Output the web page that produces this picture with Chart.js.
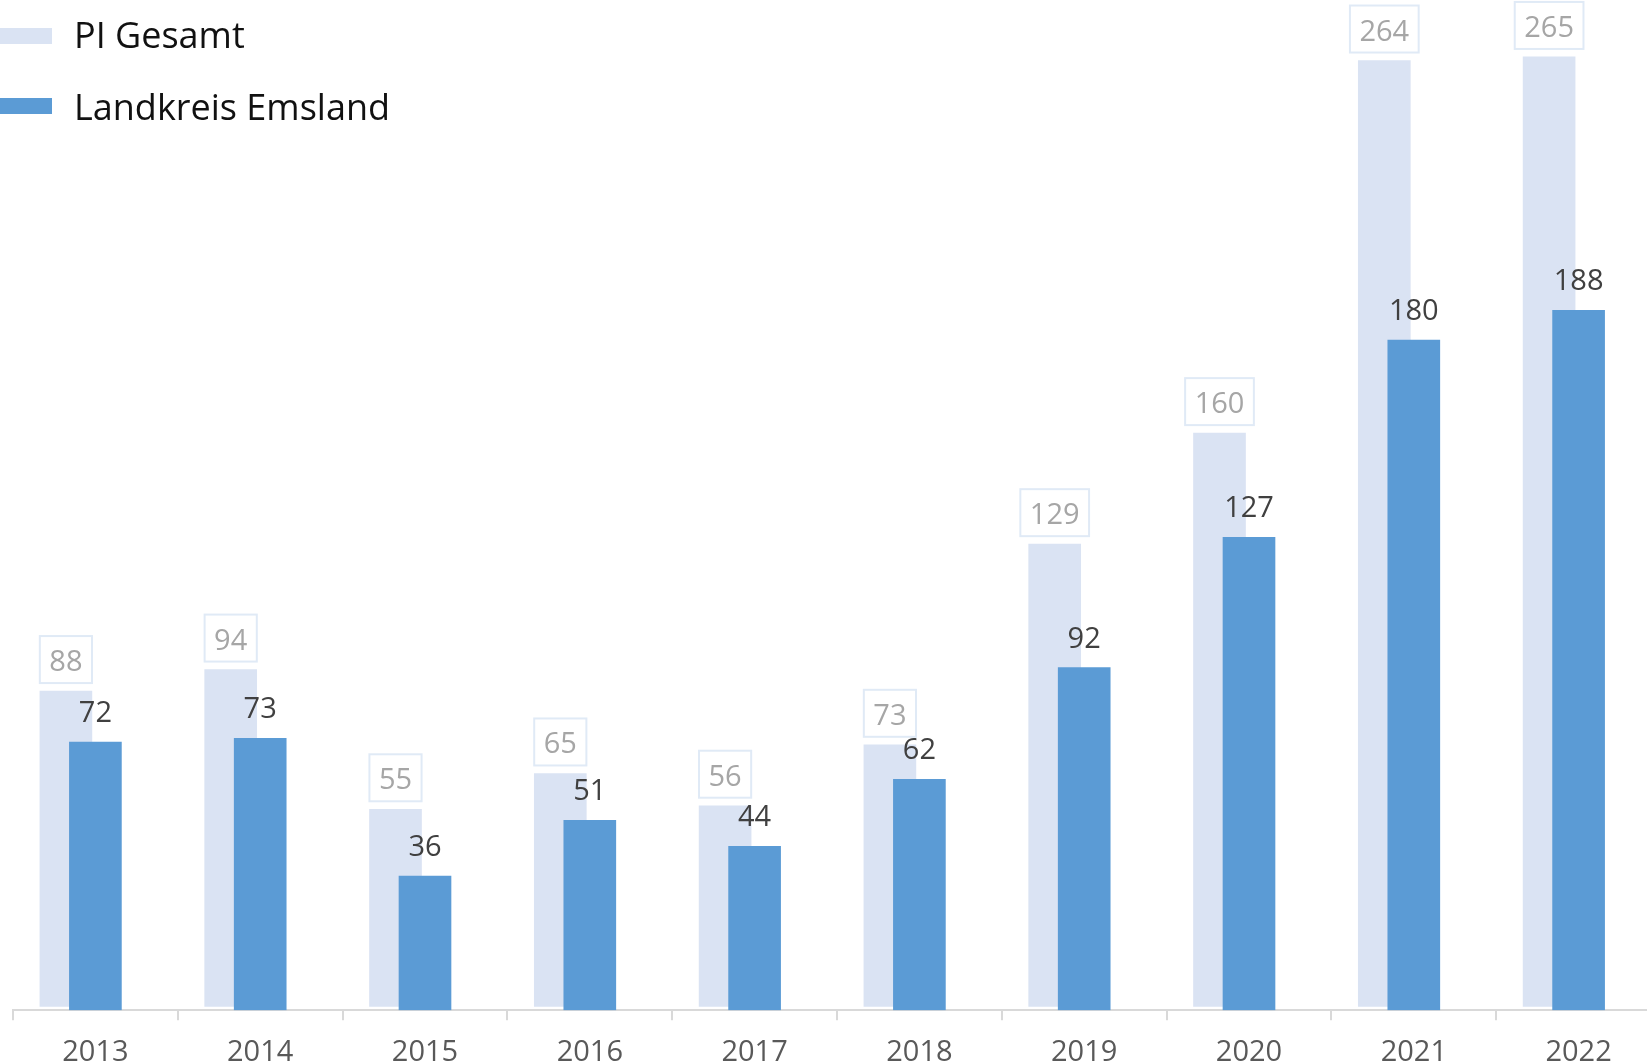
<!DOCTYPE html>
<html>
<head>
<meta charset="utf-8">
<script src="https://cdn.jsdelivr.net/npm/chart.js@4"></script>
<style>
  html, body { margin: 0; padding: 0; background: #fff; overflow: hidden; }
  #wrap { width: 1661px; height: 1085px; }
</style>
</head>
<body>
<div id="wrap"><canvas id="chart" width="1661" height="1085"></canvas></div>
<script>
// data
const years = ["2013", "2014", "2015", "2016", "2017", "2018", "2019", "2020", "2021", "2022"];
const piGesamt = [88, 94, 55, 65, 56, 73, 129, 160, 264, 265];
const emsland = [72, 73, 36, 51, 44, 62, 92, 127, 180, 188];

const FONT = "'Open Sans', 'Noto Sans', sans-serif";
const LIGHT = "#dae3f3";
const DARK = "#5b9bd5";

// light bars sit a bit to the left of the category centre (fraction of a category)
const shift = 29.5 / 164.8;

// value labels + legend, drawn on the canvas
const labelPlugin = {
  id: "barLabels",
  afterDatasetsDraw(chart) {
    const ctx = chart.ctx;
    ctx.save();
    ctx.font = "29px " + FONT;
    ctx.textAlign = "center";
    ctx.textBaseline = "alphabetic";

    chart.getDatasetMeta(0).data.forEach((bar, i) => {
      const txt = String(piGesamt[i]);
      const w = ctx.measureText(txt).width + 19;
      const h = 47;
      const bottom = bar.y - 8;
      ctx.strokeStyle = "#e0eaf6";
      ctx.lineWidth = 2;
      ctx.strokeRect(bar.x - w / 2, bottom - h, w, h);
      ctx.fillStyle = "#a6a6a6";
      ctx.fillText(txt, bar.x, bottom - 12);
    });

    ctx.fillStyle = "#404040";
    chart.getDatasetMeta(1).data.forEach((bar, i) => {
      ctx.fillText(String(emsland[i]), bar.x, bar.y - 20);
    });

    // legend, top left
    ctx.font = "36px " + FONT;
    ctx.textAlign = "left";
    const rows = [[0, 28, 48], [1, 98, 120]];
    rows.forEach(([d, boxTop, base]) => {
      const ds = chart.data.datasets[d];
      ctx.fillStyle = ds.backgroundColor;
      ctx.fillRect(0, boxTop, 52, 16);
      ctx.fillStyle = "#111";
      ctx.fillText(ds.label, 74, base);
    });
    ctx.restore();
  }
};

new Chart(document.getElementById("chart"), {
  type: "bar",
  data: {
    labels: years,
    datasets: [
      {
        label: "PI Gesamt",
        data: piGesamt.map((v, i) => ({ x: i, y: v })),
        backgroundColor: LIGHT,
        xAxisID: "x2",
        yAxisID: "y2",
        grouped: false,
        barThickness: 52,
        order: 2,
        clip: false
      },
      {
        label: "Landkreis Emsland",
        data: emsland,
        backgroundColor: DARK,
        xAxisID: "x",
        yAxisID: "y",
        grouped: false,
        barThickness: 52,
        order: 1
      }
    ]
  },
  options: {
    responsive: false,
    animation: false,
    layout: { padding: { left: 13, right: 0, top: 5, bottom: 0 } },
    plugins: {
      legend: { display: false },
      tooltip: { enabled: false }
    },
    scales: {
      x: {
        type: "category",
        offset: true,
        grid: {
          offset: true,
          drawOnChartArea: false,
          tickLength: 10,
          color: "#d9d9d9",
          lineWidth: 2
        },
        border: { color: "#d9d9d9", width: 2 },
        ticks: {
          color: "#595959",
          font: { family: FONT, size: 29 },
          padding: 15,
          maxRotation: 0
        }
      },
      x2: {
        type: "linear",
        display: false,
        offset: false,
        grid: { offset: false },
        min: -0.5 + shift,
        max: 9.5 + shift
      },
      y: {
        display: false,
        min: 0,
        max: 270
      },
      y2: {
        display: false,
        min: -1.08,
        max: 279.5
      }
    }
  },
  plugins: [labelPlugin]
});
</script>
</body>
</html>
